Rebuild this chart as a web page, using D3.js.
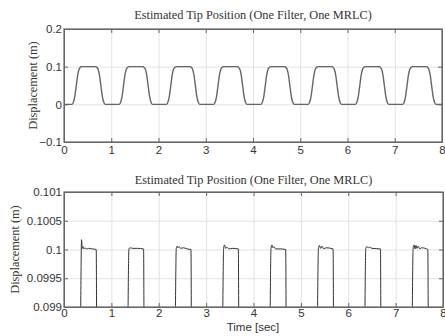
<!DOCTYPE html>
<html>
<head>
<meta charset="utf-8">
<script src="https://cdn.jsdelivr.net/npm/d3@7"></script>
<style>
  body { margin: 0; background: #fff; }
  svg { display: block; }
  .tick text { font-family: "Liberation Sans", Arial, sans-serif; font-size: 11.5px; fill: #333; }
  .axis path, .axis line { stroke: #666; }
  .grid line { stroke: #e2e2e2; }
  .grid path { display: none; }
  .title, .ylabel { font-family: "Liberation Serif", "Times New Roman", serif; font-size: 12.3px; fill: #333; }
</style>
</head>
<body>
<div id="chart"></div>
<script>
// chart values
const titleText = 'Estimated Tip Position (One Filter, One MRLC)';
const yLabelText = 'Displacement (m)';
const xLabelText = 'Time [sec]';
const xTicks = [0, 1, 2, 3, 4, 5, 6, 7, 8];
const yTicksTop = [-0.1, 0, 0.1, 0.2];
const yTicksBottom = [0.099, 0.0995, 0.1, 0.1005, 0.101];
const yTickLabelsBottom = ['0.099', '0.0995', '0.1', '0.1005', '0.101'];

// [time (s), displacement (m)]
const tipTrace = [
  [0, 0], [0.17, 0], [0.20, 0.006], [0.23, 0.022], [0.26, 0.05], [0.29, 0.078], [0.32, 0.094], [0.355, 0.0992],
  [0.37, 0.10017], [0.385, 0.10002], [0.40, 0.10005], [0.42, 0.10001], [0.44, 0.10003], [0.47, 0.10001], [0.52, 0.10002], [0.60, 0.10001], [0.68, 0.1],
  [0.69, 0.0985], [0.72, 0.094], [0.75, 0.078], [0.78, 0.05], [0.81, 0.022], [0.84, 0.006], [0.87, 0],

  [1.17, 0], [1.20, 0.006], [1.23, 0.022], [1.26, 0.05], [1.29, 0.078], [1.32, 0.094], [1.355, 0.0992],
  [1.37, 0.10001], [1.40, 0.10003], [1.45, 0.10002], [1.55, 0.10002], [1.68, 0.10001],
  [1.69, 0.0985], [1.72, 0.094], [1.75, 0.078], [1.78, 0.05], [1.81, 0.022], [1.84, 0.006], [1.87, 0],

  [2.17, 0], [2.20, 0.006], [2.23, 0.022], [2.26, 0.05], [2.29, 0.078], [2.32, 0.094], [2.355, 0.0992],
  [2.37, 0.10002], [2.39, 0.10006], [2.41, 0.10003], [2.43, 0.10005], [2.46, 0.10002], [2.52, 0.10003], [2.60, 0.10001], [2.68, 0.1],
  [2.69, 0.0985], [2.72, 0.094], [2.75, 0.078], [2.78, 0.05], [2.81, 0.022], [2.84, 0.006], [2.87, 0],

  [3.17, 0], [3.20, 0.006], [3.23, 0.022], [3.26, 0.05], [3.29, 0.078], [3.32, 0.094], [3.355, 0.0992],
  [3.37, 0.10003], [3.39, 0.10008], [3.41, 0.10002], [3.44, 0.10004], [3.48, 0.10001], [3.55, 0.10002], [3.68, 0.10001],
  [3.69, 0.0985], [3.72, 0.094], [3.75, 0.078], [3.78, 0.05], [3.81, 0.022], [3.84, 0.006], [3.87, 0],

  [4.17, 0], [4.20, 0.006], [4.23, 0.022], [4.26, 0.05], [4.29, 0.078], [4.32, 0.094], [4.355, 0.0992],
  [4.37, 0.10002], [4.39, 0.10008], [4.41, 0.10003], [4.43, 0.10005], [4.47, 0.10001], [4.56, 0.10001], [4.68, 0.1],
  [4.69, 0.0985], [4.72, 0.094], [4.75, 0.078], [4.78, 0.05], [4.81, 0.022], [4.84, 0.006], [4.87, 0],

  [5.17, 0], [5.20, 0.006], [5.23, 0.022], [5.26, 0.05], [5.29, 0.078], [5.32, 0.094], [5.355, 0.0992],
  [5.37, 0.10001], [5.39, 0.10007], [5.42, 0.10002], [5.45, 0.10006], [5.48, 0.10001], [5.53, 0.10003], [5.68, 0.10001],
  [5.69, 0.0985], [5.72, 0.094], [5.75, 0.078], [5.78, 0.05], [5.81, 0.022], [5.84, 0.006], [5.87, 0],

  [6.17, 0], [6.20, 0.006], [6.23, 0.022], [6.26, 0.05], [6.29, 0.078], [6.32, 0.094], [6.355, 0.0992],
  [6.37, 0.10002], [6.39, 0.10005], [6.42, 0.10003], [6.45, 0.10004], [6.50, 0.10002], [6.68, 0.10001],
  [6.69, 0.0985], [6.72, 0.094], [6.75, 0.078], [6.78, 0.05], [6.81, 0.022], [6.84, 0.006], [6.87, 0],

  [7.17, 0], [7.20, 0.006], [7.23, 0.022], [7.26, 0.05], [7.29, 0.078], [7.32, 0.094], [7.355, 0.0992],
  [7.37, 0.10003], [7.39, 0.10008], [7.41, 0.10001], [7.43, 0.10007], [7.45, 0.10002], [7.48, 0.10006], [7.51, 0.10001], [7.55, 0.10003], [7.68, 0.1],
  [7.69, 0.0985], [7.72, 0.094], [7.75, 0.078], [7.78, 0.05], [7.81, 0.022], [7.84, 0.006], [7.87, 0], [8, 0]
];

const svg = d3.select('#chart').append('svg')
  .attr('width', 445)
  .attr('height', 336);

// draw one panel
// box: {left, right, top, bottom} in pixels
function drawPanel(box, yDomain, yTicks, yTickFmt, lineStyle, clipId, yLabelX, xPad, titleGap) {
  let width = box.right - box.left,
      height = box.bottom - box.top;

  let xScale = d3.scaleLinear().domain([0, 8]).range([0, width]);
  let yScale = d3.scaleLinear().domain(yDomain).range([height, 0]);

  let g = svg.append('g')
    .attr('transform', 'translate(' + box.left + ',' + box.top + ')');

  // grid
  g.append('g').attr('class', 'grid')
    .attr('transform', 'translate(0,' + height + ')')
    .call(d3.axisBottom(xScale).tickValues(xTicks).tickSize(-height).tickFormat(''));
  g.append('g').attr('class', 'grid')
    .call(d3.axisLeft(yScale).tickValues(yTicks).tickSize(-width).tickFormat(''));

  // the trace
  svg.append('clipPath').attr('id', clipId)
    .append('rect').attr('width', width).attr('height', height);

  let line = d3.line()
    .x((d) => { return xScale(d[0]); })
    .y((d) => { return yScale(d[1]); })
    .curve(d3.curveMonotoneX);

  g.append('path')
    .datum(tipTrace)
    .attr('clip-path', 'url(#' + clipId + ')')
    .attr('fill', 'none')
    .attr('stroke', lineStyle.color)
    .attr('stroke-width', lineStyle.width)
    .attr('d', line);

  // axes, ticks pointing inward
  g.append('g').attr('class', 'axis')
    .attr('transform', 'translate(0,' + height + ')')
    .call(d3.axisBottom(xScale).tickValues(xTicks).tickSizeInner(-4).tickSizeOuter(0).tickPadding(xPad));
  g.append('g').attr('class', 'axis')
    .call(d3.axisLeft(yScale).tickValues(yTicks).tickFormat(yTickFmt).tickSizeInner(-4).tickSizeOuter(0).tickPadding(2));
  g.append('g').attr('class', 'axis')
    .call(d3.axisTop(xScale).tickValues(xTicks).tickFormat('').tickSizeInner(-4).tickSizeOuter(0));
  g.append('g').attr('class', 'axis')
    .attr('transform', 'translate(' + width + ',0)')
    .call(d3.axisRight(yScale).tickValues(yTicks).tickFormat('').tickSizeInner(-4).tickSizeOuter(0));

  g.append('rect')
    .attr('width', width).attr('height', height)
    .attr('fill', 'none').attr('stroke', '#666').attr('stroke-width', 1.2);

  // title
  svg.append('text').attr('class', 'title')
    .attr('x', box.left + width / 2)
    .attr('y', box.top - titleGap)
    .attr('text-anchor', 'middle')
    .text(titleText);

  // y label
  svg.append('text').attr('class', 'ylabel')
    .attr('transform', 'translate(' + yLabelX + ',' + (box.top + height / 2) + ') rotate(-90)')
    .attr('text-anchor', 'middle')
    .text(yLabelText);

  return g;
}

drawPanel({left: 64, right: 442, top: 29, bottom: 142},
  [-0.1, 0.2], yTicksTop, d3.format('~g'),
  {color: '#666', width: 1.4}, 'clipTop', 37, 4, 10);

drawPanel({left: 64, right: 443, top: 192, bottom: 307},
  [0.099, 0.101], yTicksBottom, (d, i) => { return yTickLabelsBottom[i]; },
  {color: '#333', width: 1}, 'clipBottom', 19, 2, 8);

svg.append('text')
  .attr('x', 253)
  .attr('y', 331)
  .attr('text-anchor', 'middle')
  .style('font-family', '"Liberation Sans", Arial, sans-serif')
  .style('font-size', '11.5px')
  .style('fill', '#333')
  .text(xLabelText);
</script>
</body>
</html>
